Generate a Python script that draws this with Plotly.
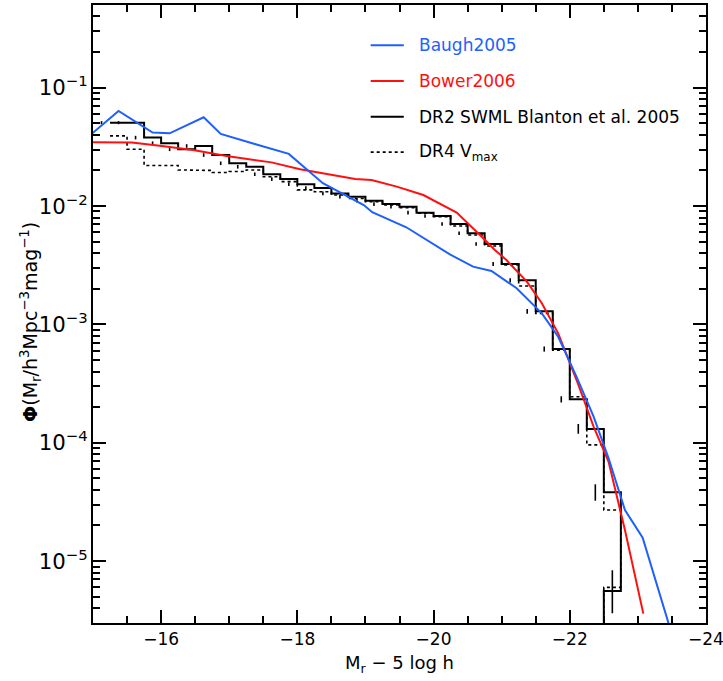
import numpy as np
import plotly.graph_objects as go

# ---------------- data ----------------
bin_centers = [-15.125, -15.375, -15.625, -15.875, -16.125, -16.375, -16.625, -16.875,
               -17.125, -17.375, -17.625, -17.875, -18.125, -18.375, -18.625, -18.875,
               -19.125, -19.375, -19.625, -19.875, -20.125, -20.375, -20.625, -20.875,
               -21.125, -21.375, -21.625, -21.875, -22.125, -22.375, -22.625]
bin_width = 0.25

dr2_swml = [0.0507, 0.0507, 0.0379, 0.0340, 0.0302, 0.0322, 0.0270, 0.0230,
            0.0215, 0.0186, 0.0169, 0.0153, 0.0142, 0.0128, 0.0120, 0.0111,
            0.0104, 0.00989, 0.00880, 0.00824, 0.00706, 0.00589, 0.00478, 0.00324,
            0.00236, 0.00129, 0.00062, 0.000233, 0.000131, 3.81e-5, 5.58e-6]
dr2_relerr_up = [0.03, 0.03, 0.035, 0.035, 0.035, 0.035, 0.035, 0.035,
                 0.035, 0.035, 0.035, 0.035, 0.035, 0.035, 0.035, 0.035,
                 0.035, 0.035, 0.035, 0.035, 0.035, 0.035, 0.035, 0.04,
                 0.04, 0.045, 0.05, 0.06, 0.10, 0.17, 0.50]
dr2_relerr_dn = [0.03, 0.03, 0.035, 0.035, 0.035, 0.035, 0.035, 0.035,
                 0.035, 0.035, 0.035, 0.035, 0.035, 0.035, 0.035, 0.035,
                 0.035, 0.035, 0.035, 0.035, 0.035, 0.035, 0.035, 0.04,
                 0.04, 0.045, 0.05, 0.06, 0.09, 0.15, 0.35]

dr4_vmax = [0.0392, 0.0302, 0.0220, 0.0220, 0.0202, 0.0200, 0.0192, 0.0196,
            0.0202, 0.0177, 0.0161, 0.0137, 0.0132, 0.0124, 0.0116, 0.0109,
            0.0102, 0.0097, 0.0087, 0.00814, 0.00679, 0.0057, 0.0046, 0.00318,
            0.00211, 0.00124, 0.000605, 0.000245, 9.6e-5, 2.7e-5, 6.0e-6]

baugh_mag = [-14.875, -15.375, -15.875, -16.125, -16.625, -16.875, -17.375, -17.625,
             -17.875, -18.375, -18.975, -19.1, -19.6, -20.24, -20.58, -20.85, -21.22,
             -21.59, -21.83, -22.10, -22.35, -22.57, -22.81, -23.07, -23.5]
baugh_phi = [0.0362, 0.0637, 0.0418, 0.0412, 0.0563, 0.0407, 0.0335, 0.0304,
             0.0276, 0.0156, 0.0102, 0.00887, 0.00662, 0.0039, 0.00308, 0.00283, 0.00202,
             0.00124, 0.000787, 0.000361, 0.000166, 7.38e-5, 2.70e-5, 1.58e-5, 2.4e-6]

bower_mag = [-15.0, -15.57, -15.98, -16.47, -16.96, -17.62, -18.04, -18.53, -18.85,
             -19.09, -19.46, -19.85, -20.34, -20.73, -20.90, -21.07, -21.37, -21.59,
             -21.83, -22.10, -22.35, -22.57, -22.81, -23.08]
bower_phi = [0.0346, 0.0345, 0.0324, 0.0298, 0.0265, 0.0234, 0.0205, 0.0183, 0.0169,
             0.0166, 0.0146, 0.0124, 0.0088, 0.00535, 0.00426, 0.0035, 0.0023, 0.00151,
             0.00084, 0.000339, 0.000137, 6.9e-5, 1.83e-5, 3.6e-6]

x_ticks = [-16, -18, -20, -22, -24]
legend_labels = ["Baugh2005", "Bower2006", "DR2 SWML Blanton et al. 2005",
                 "DR4 V<sub>max</sub>"]
x_title = "M<sub>r</sub> − 5 log h"
y_title = "<b>Φ</b>(M<sub>r</sub>/h<sup>3</sup>Mpc<sup>−3</sup>mag<sup>−1</sup>)"

BLUE = "#1f5fff"
RED = "#ff1010"
BLACK = "#000000"
FONT = "DejaVu Sans"

# ---------------- step histogram helper ----------------
def steps(centers, vals, floor=1e-9):
    c = np.asarray(centers)
    v = np.asarray(vals)
    edges = np.concatenate([c - bin_width / 2, [c[-1] + bin_width / 2]])
    xs, ys = [], []
    for i in range(len(v)):
        xs += [edges[i], edges[i + 1]]
        ys += [v[i], v[i]]
    xs += [edges[-1], -24.5]
    ys += [floor, floor]
    return xs, ys

fig = go.Figure()

x4, y4 = steps(bin_centers, dr4_vmax)
fig.add_trace(go.Scatter(x=x4, y=y4, mode="lines",
                         line=dict(color=BLACK, width=1.6, dash="dot"),
                         showlegend=False, hoverinfo="skip"))

x2, y2 = steps(bin_centers, dr2_swml)
fig.add_trace(go.Scatter(x=x2, y=y2, mode="lines",
                         line=dict(color=BLACK, width=2),
                         showlegend=False, hoverinfo="skip"))

v = np.asarray(dr2_swml)
fig.add_trace(go.Scatter(x=bin_centers, y=dr2_swml, mode="markers",
                         marker=dict(size=0.1, color=BLACK),
                         error_y=dict(type="data", symmetric=False,
                                      array=(v * np.asarray(dr2_relerr_up)).tolist(),
                                      arrayminus=(v * np.asarray(dr2_relerr_dn)).tolist(),
                                      color=BLACK, thickness=1.6, width=0),
                         showlegend=False, hoverinfo="skip"))

fig.add_trace(go.Scatter(x=bower_mag, y=bower_phi, mode="lines",
                         line=dict(color=RED, width=2),
                         showlegend=False, hoverinfo="skip"))
fig.add_trace(go.Scatter(x=baugh_mag, y=baugh_phi, mode="lines",
                         line=dict(color=BLUE, width=2),
                         showlegend=False, hoverinfo="skip"))

# ---------------- legend (in-plot) ----------------
leg_colors = [BLUE, RED, BLACK, BLACK]
leg_dash = ["solid", "solid", "solid", "dot"]
leg_y = [0.935, 0.877, 0.819, 0.762]
for lab, col, dsh, yy in zip(legend_labels, leg_colors, leg_dash, leg_y):
    fig.add_shape(type="line", xref="paper", yref="paper",
                  x0=0.453, x1=0.507, y0=yy, y1=yy,
                  line=dict(color=col, width=2 if dsh == "solid" else 1.6, dash=dsh))
    fig.add_annotation(xref="paper", yref="paper", x=0.528, y=yy,
                       text=lab, showarrow=False, xanchor="left", yanchor="middle",
                       font=dict(family=FONT, size=17, color=col))

# axis titles as annotations for exact placement
fig.add_annotation(xref="paper", yref="paper", x=0.5, y=-0.066, text=x_title,
                   showarrow=False, xanchor="center", yanchor="middle",
                   font=dict(family=FONT, size=18, color=BLACK))
fig.add_annotation(xref="paper", yref="paper", x=-0.103, y=0.487, text=y_title,
                   textangle=-90, showarrow=False, xanchor="center", yanchor="middle",
                   font=dict(family=FONT, size=19, color=BLACK))

axis_common = dict(showline=True, linecolor=BLACK, linewidth=2, mirror="allticks",
                   ticks="inside", tickcolor=BLACK, tickwidth=1.5, showgrid=False,
                   zeroline=False, automargin=False, ticklabeloverflow="allow",
                   tickfont=dict(family=FONT, size=17, color=BLACK))

fig.update_xaxes(range=[-14.99999, -24.0001], tickvals=x_ticks, ticklen=13,
                 minor=dict(dtick=0.5, tick0=0, ticks="inside", ticklen=7,
                            tickcolor=BLACK, tickwidth=1.5),
                 **axis_common)
fig.update_yaxes(type="log", range=[np.log10(3.0e-6), np.log10(0.5)],
                 dtick=1, exponentformat="power", ticklen=13,
                 minor=dict(dtick="D1", ticks="inside", ticklen=7,
                            tickcolor=BLACK, tickwidth=1.5),
                 **axis_common)

fig.update_layout(width=723, height=681,
                  margin=dict(l=93, r=17, t=5, b=58, autoexpand=False),
                  plot_bgcolor="white", paper_bgcolor="white",
                  showlegend=False)

fig.write_html("out.html", config={"displayModeBar": False},
               post_script="document.body.style.margin='0';document.body.style.padding='0';")
